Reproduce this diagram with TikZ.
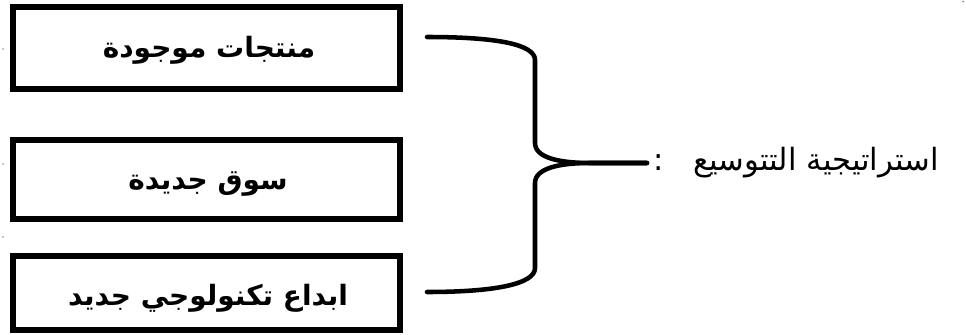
\documentclass[tikz,border=0pt]{standalone}
\usepackage{fontspec}
\newfontfamily\arabicfont[Script=Arabic]{DejaVu Sans}
\TeXXeTstate=1
\begin{document}
\begin{tikzpicture}[x=0.75pt,y=-0.75pt,
  itembox/.style={draw=black,line width=4.5pt,fill=white},
  itemtext/.style={font=\arabicfont\bfseries\fontsize{21}{25}\selectfont,inner sep=0pt},
  bracestyle/.style={draw=black,line width=3.4pt,line cap=round,line join=round},
  labeltext/.style={font=\arabicfont\fontsize{23}{27}\selectfont,inner sep=0pt,anchor=east},
  speck/.style={fill=black!45,draw=none}]
\useasboundingbox (0,0) rectangle (966,335);
\fill[white] (0,0) rectangle (966,335);

% the three boxes
\draw[itembox] (12.5,7) rectangle (399.5,88.5);
\draw[itembox] (12.5,140) rectangle (399.5,218.5);
\draw[itembox] (12.5,256) rectangle (399.5,330);

\node[itemtext] (b1) at (209,50) {\beginR منتجات موجودة\endR};
\node[itemtext] (b2) at (208,184) {\beginR سوق جديدة\endR};
\node[itemtext] (b3) at (208,298) {\beginR ابداع تكنولوجي جديد\endR};

% brace ends and tip
\coordinate (top) at (427,37);
\coordinate (bot) at (427,292);
\coordinate (tip) at (647,163);

\node[labeltext] (lbl) at (939,163) {\beginR استراتيجية التتوسيع\endR};
\node[font=\arabicfont\fontsize{23}{27}\selectfont,inner sep=0pt] (colon) at (659,163) {:};

\draw[bracestyle] (top) .. controls (495,37) and (535,44) .. (535,60)
  -- (535,143) .. controls (535,158) and (560,163) .. (590,163) -- (tip);
\draw[bracestyle] (tip) -- (590,163) .. controls (560,163) and (535,168) .. (535,183)
  -- (535,268) .. controls (535,284) and (495,292) .. (bot);

% small specks along the left edge
\fill[speck] (3,49) circle (0.8);
\fill[speck] (3,164) circle (0.8);
\fill[speck] (3,237) circle (0.8);
\fill[speck] (963,1.5) circle (1);
\end{tikzpicture}
\end{document}
